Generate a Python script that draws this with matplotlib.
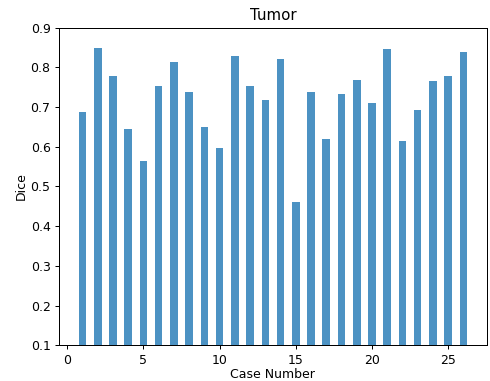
import matplotlib
matplotlib.use("Agg")
import matplotlib.pyplot as plt

cases = list(range(1, 27))
dice = [0.689, 0.849, 0.778, 0.646, 0.564, 0.754, 0.815, 0.739, 0.651, 0.597,
        0.829, 0.753, 0.719, 0.821, 0.462, 0.738, 0.619, 0.733, 0.768, 0.711,
        0.847, 0.614, 0.694, 0.765, 0.778, 0.839]

scale = 0.9
fig = plt.figure(figsize=(4.9 / scale, 3.81 / scale), dpi=100 * scale)
ax = fig.add_axes([0.121, 0.094, 0.872, 0.833])
ax.bar(cases, dice, width=0.5, color="#1f77b4", alpha=0.8)
ax.set_ylim(0.1, 0.9)
ax.set_title("Tumor")
ax.set_xlabel("Case Number", labelpad=1)
ax.set_ylabel("Dice", labelpad=2.5)
fig.savefig("out.png", dpi=100 * scale)
